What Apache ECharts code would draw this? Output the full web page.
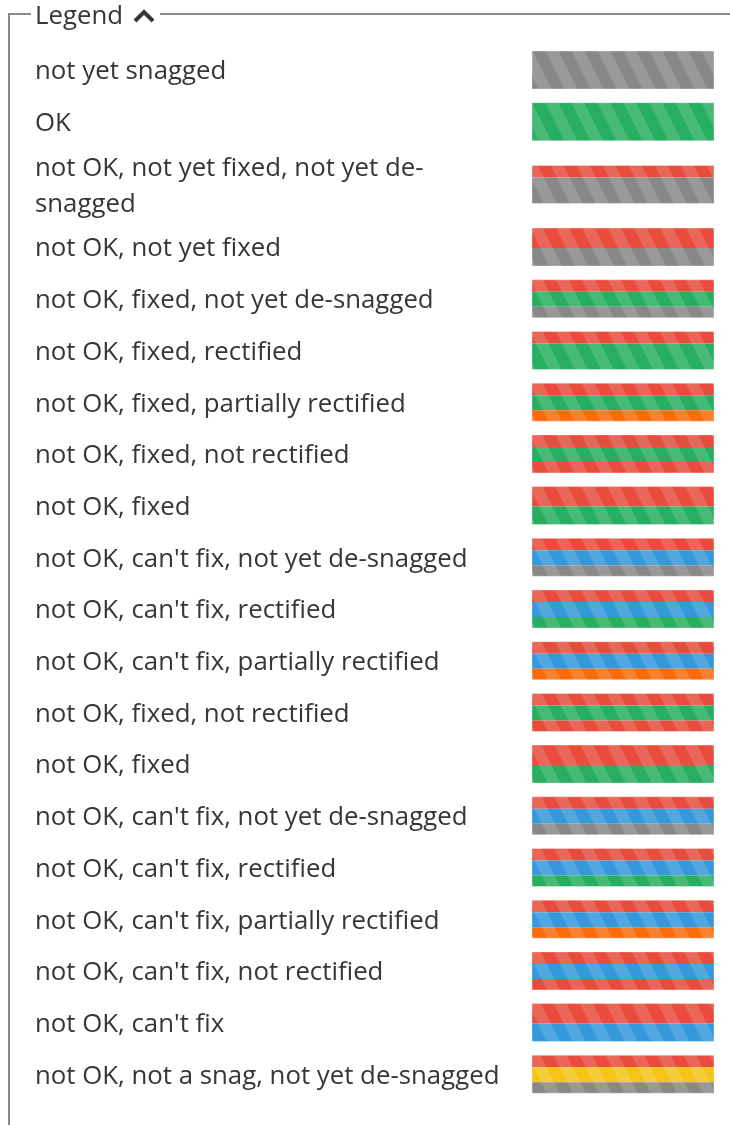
<!DOCTYPE html>
<html>
<head>
<meta charset="utf-8">
<title>Legend</title>
<script src="https://cdn.jsdelivr.net/npm/echarts@6/dist/echarts.min.js"></script>
<style>
    html, body { margin: 0; padding: 0; background: #fff; }
    #legendChart { width: 730px; height: 1125px; }
</style>
</head>
<body>
<div id="legendChart"></div>
<script>
// legend rows
var labels = [
    'not yet snagged',
    'OK',
    'not OK, not yet fixed, not yet de-\nsnagged',
    'not OK, not yet fixed',
    'not OK, fixed, not yet de-snagged',
    'not OK, fixed, rectified',
    'not OK, fixed, partially rectified',
    'not OK, fixed, not rectified',
    'not OK, fixed',
    'not OK, can\'t fix, not yet de-snagged',
    'not OK, can\'t fix, rectified',
    'not OK, can\'t fix, partially rectified',
    'not OK, fixed, not rectified',
    'not OK, fixed',
    'not OK, can\'t fix, not yet de-snagged',
    'not OK, can\'t fix, rectified',
    'not OK, can\'t fix, partially rectified',
    'not OK, can\'t fix, not rectified',
    'not OK, can\'t fix',
    'not OK, not a snag, not yet de-snagged'
];

// colour bands of each swatch, top to bottom
var bandColors = [
    ['grey'],
    ['green'],
    ['red', 'grey'],
    ['red', 'grey'],
    ['red', 'green', 'grey'],
    ['red', 'green'],
    ['red', 'green', 'orange'],
    ['red', 'green', 'red'],
    ['red', 'green'],
    ['red', 'blue', 'grey'],
    ['red', 'blue', 'green'],
    ['red', 'blue', 'orange'],
    ['red', 'green', 'red'],
    ['red', 'green'],
    ['red', 'blue', 'grey'],
    ['red', 'blue', 'green'],
    ['red', 'blue', 'orange'],
    ['red', 'blue', 'red'],
    ['red', 'blue'],
    ['red', 'yellow', 'grey']
];

// relative band thickness
var bandWeights = [
    [1],
    [1],
    [12, 26],
    [20, 18],
    [12, 15, 11],
    [12, 26],
    [12, 15, 11],
    [12, 15, 11],
    [20, 18],
    [12, 15, 11],
    [12, 15, 11],
    [12, 15, 11],
    [12, 15, 11],
    [20, 18],
    [12, 15, 11],
    [12, 15, 11],
    [12, 15, 11],
    [12, 15, 11],
    [20, 18],
    [12, 15, 11]
];

var palette = {
    grey: '#888888',
    green: '#27ae60',
    red: '#e74c3c',
    blue: '#3498db',
    orange: '#fa6b0c',
    yellow: '#f4c417'
};

var dom = document.getElementById('legendChart');
var myChart = echarts.init(dom);
option = null;

var textColor = '#363636';
var fontFamily = '"Open Sans", "Noto Sans", sans-serif';
var rowPitch = 51.7;
var lineExtra = 22;
var swatchH = 38;
var firstCenter = 70;

// row centres from the label line counts
var rowCenters = [];
var prevH = 0;
labels.forEach(function (txt, i) {
    var h = rowPitch + (txt.split('\n').length - 1) * lineExtra;
    if (i === 0) {
        rowCenters.push(firstCenter);
    } else {
        rowCenters.push(rowCenters[i - 1] + (prevH + h) / 2);
    }
    prevH = h;
});

// light diagonal stripes laid over every swatch
function makeStripes() {
    var c = document.createElement('canvas');
    c.width = 26;
    c.height = 52;
    var ctx = c.getContext('2d');
    ctx.fillStyle = 'rgba(255,255,255,0.15)';
    [-26, 0, 26].forEach(function (off) {
        ctx.beginPath();
        ctx.moveTo(off, 0);
        ctx.lineTo(off + 13, 0);
        ctx.lineTo(off + 39, 52);
        ctx.lineTo(off + 26, 52);
        ctx.closePath();
        ctx.fill();
    });
    return c;
}
var stripes = makeStripes();

function renderRow(params, api) {
    var i = api.value(0);
    var center = rowCenters[i];
    var top = center - swatchH / 2;
    var weights = bandWeights[i];
    var total = weights.reduce(function (a, b) { return a + b; }, 0);
    var children = [];
    var acc = 0;
    bandColors[i].forEach(function (key, k) {
        var p0 = api.coord([0, top + swatchH * acc / total]);
        acc += weights[k];
        var p1 = api.coord([1, top + swatchH * acc / total]);
        children.push({
            type: 'rect',
            shape: { x: p0[0], y: p0[1], width: p1[0] - p0[0], height: p1[1] - p0[1] },
            style: { fill: palette[key] }
        });
    });
    var a = api.coord([0, top]);
    var b = api.coord([1, top + swatchH]);
    children.push({
        type: 'rect',
        shape: { x: a[0], y: a[1], width: b[0] - a[0], height: b[1] - a[1] },
        style: {
            fill: { image: stripes, repeat: 'repeat' },
            stroke: 'rgba(255,255,255,0.35)',
            lineWidth: 1
        }
    });
    var mid = api.coord([0, center]);
    children.push({
        type: 'text',
        x: 35,
        y: mid[1] + 2,
        style: {
            text: labels[i],
            fill: textColor,
            font: '25.8px ' + fontFamily,
            lineHeight: 36,
            verticalAlign: 'middle',
            align: 'left'
        }
    });
    return { type: 'group', children: children };
}

option = {
    animation: false,
    backgroundColor: '#ffffff',
    grid: { left: 532, right: 16, top: 0, bottom: 0 },
    xAxis: { type: 'value', min: 0, max: 1, show: false },
    yAxis: { type: 'value', min: 0, max: 1125, inverse: true, show: false },
    graphic: [
        {
            type: 'polyline',
            shape: { points: [[31, 14], [9, 14], [9, 1125]] },
            style: { stroke: '#8a8a8a', lineWidth: 2, fill: null }
        },
        {
            type: 'line',
            shape: { x1: 160, y1: 14, x2: 730, y2: 14 },
            style: { stroke: '#8a8a8a', lineWidth: 2 }
        },
        {
            type: 'text',
            x: 35,
            y: 17,
            style: {
                text: 'Legend',
                fill: textColor,
                font: '25.8px ' + fontFamily,
                verticalAlign: 'middle'
            }
        },
        {
            type: 'polyline',
            shape: { points: [[135, 21], [144, 12], [153, 21]] },
            style: { stroke: textColor, lineWidth: 4, fill: null, lineJoin: 'miter' }
        }
    ],
    series: [{
        type: 'custom',
        clip: false,
        renderItem: renderRow,
        data: labels.map(function (l, i) { return [i]; })
    }]
};
if (option && typeof option === "object") {
    myChart.setOption(option, true);
}
</script>
</body>
</html>
